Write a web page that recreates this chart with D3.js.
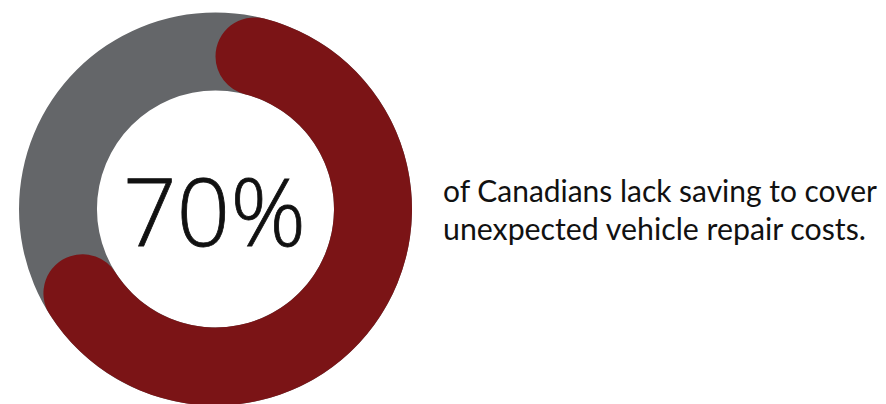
<!DOCTYPE html>
<html><head><meta charset="utf-8">
<script src="https://cdn.jsdelivr.net/npm/d3@7"></script>
<style>html,body{margin:0;padding:0;background:#fff;}svg{display:block;}</style>
</head><body>
<svg id="c" width="886" height="404"></svg>
<script>
const categories = ["Lack savings", "Have savings"];
const shares = [70, 30];
const centerLabel = "70%";
const captionLines = ["of Canadians lack saving to cover", "unexpected vehicle repair costs."];
const colors = ["#7b1416", "#646669"];

const svg = d3.select("#c");
const cx = 215.5, cy = 209, R = 196.5, r = 118.5;
const g = svg.append("g").attr("transform", `translate(${cx},${cy})`);

const total = d3.sum(shares);
const angle = d3.scaleLinear().domain([0, total]).range([0, 2 * Math.PI]);

// background ring (remaining share)
g.append("path")
  .attr("d", d3.arc().innerRadius(r).outerRadius(R).startAngle(0).endAngle(2 * Math.PI)())
  .attr("fill", colors[1]);

// main share arc with rounded ends
g.append("path")
  .attr("d", d3.arc().innerRadius(r).outerRadius(R).cornerRadius((R - r) / 2)
    .startAngle(angle(0)).endAngle(angle(shares[0]))())
  .attr("fill", colors[0]);

g.append("text")
  .attr("x", -1).attr("y", 37)
  .attr("text-anchor", "middle")
  .attr("font-family", "'Open Sans', sans-serif")
  .attr("font-weight", 300)
  .attr("font-size", 94)
  .attr("stroke", "#111").attr("stroke-width", 0.8)
  .attr("fill", "#111")
  .text(centerLabel);

const cap = svg.append("g");
captionLines.forEach((t, i) => {
  cap.append("text")
    .attr("x", 443).attr("y", 202 + i * 38)
    .attr("font-family", "Lato, sans-serif")
    .attr("font-size", 27)
    .attr("fill", "#111")
    .text(t);
});
// fit caption line widths
const widths = [434, 423];
cap.selectAll("text").each(function(d, i) {
  const w = this.getComputedTextLength();
  const fs = 27 * widths[i] / w;
  d3.select(this).attr("font-size", fs.toFixed(2));
});
</script>
</body></html>
